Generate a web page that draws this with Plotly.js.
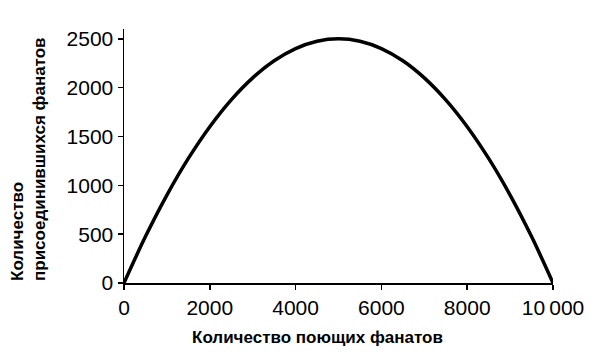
<!DOCTYPE html>
<html><head><meta charset="utf-8">
<script src="https://cdn.plot.ly/plotly-3.0.1.min.js"></script>
<style>html,body{margin:0;padding:0;background:#fff}#c{width:600px;height:358px}</style>
</head><body><div id="c"></div>
<script>
const singers = [0,500,1000,1500,2000,2500,3000,3500,4000,4500,5000,5500,6000,6500,7000,7500,8000,8500,9000,9500,10000];
const joined  = [0,475,900,1275,1600,1875,2100,2275,2400,2475,2500,2475,2400,2275,2100,1875,1600,1275,900,475,0];
const xTickVals = [0,2000,4000,6000,8000,10000];
const xTickText = ['0','2000','4000','6000','8000','10\u2009000'];
const yTickVals = [0,500,1000,1500,2000,2500];
const xTitle = 'Количество поющих фанатов';
const yTitle = 'Количество<br>присоединившихся фанатов';

const font = 'Liberation Sans, Arial, sans-serif';
Plotly.newPlot('c', [{
  x: singers, y: joined, type: 'scatter', mode: 'lines',
  line: {color: '#000', width: 3.5, shape: 'spline'}, hoverinfo: 'skip'
}], {
  width: 600, height: 358,
  margin: {l: 124, r: 47, t: 29, b: 75},
  paper_bgcolor: '#fff', plot_bgcolor: '#fff',
  showlegend: false,
  xaxis: {
    range: [0, 10000], tickvals: xTickVals, ticktext: xTickText,
    ticks: 'outside', ticklen: 5, tickwidth: 1.5, tickcolor: '#000',
    showline: true, linecolor: '#000', linewidth: 1.5, showgrid: false, zeroline: false,
    tickfont: {family: font, size: 21, color: '#000'}
  },
  yaxis: {
    range: [0, 2600], tickvals: yTickVals,
    ticks: 'outside', ticklen: 5, tickwidth: 1.5, tickcolor: '#000',
    showline: true, linecolor: '#000', linewidth: 1.5, showgrid: false, zeroline: false,
    tickfont: {family: font, size: 21, color: '#000'}
  },
  annotations: [
    {text: xTitle, xref: 'paper', yref: 'paper', x: (317-124)/429, y: 0, yshift: -54,
     xanchor: 'center', yanchor: 'middle', showarrow: false,
     font: {family: font, size: 17, color: '#000', weight: 'bold'}},
    {text: yTitle, xref: 'paper', yref: 'paper', x: 0, xshift: -96, y: 0,
     xanchor: 'center', yanchor: 'bottom', showarrow: false, textangle: -90, align: 'left',
     font: {family: font, size: 17, color: '#000', weight: 'bold'}}
  ]
}, {displayModeBar: false, staticPlot: true});
</script></body></html>
